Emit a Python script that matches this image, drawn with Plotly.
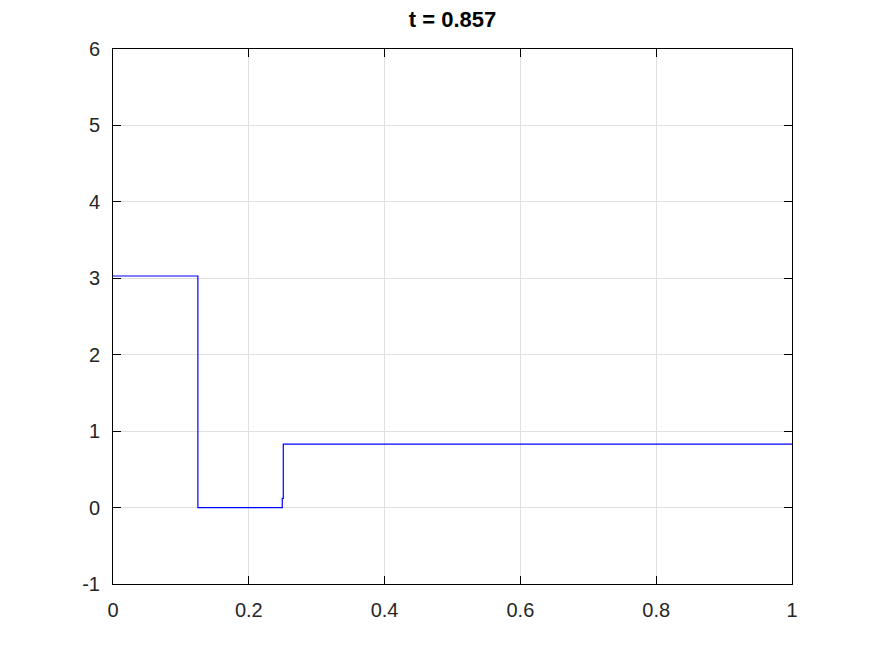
import plotly.graph_objects as go

# step profile
x_vals = [0.0, 0.125, 0.125, 0.2493, 0.2493, 0.2508, 0.2508, 1.0]
y_vals = [3.03, 3.03, 0.0, 0.0, 0.12, 0.12, 0.83, 0.83]

x_ticks = [0, 0.2, 0.4, 0.6, 0.8, 1]
x_labels = ['0', '0.2', '0.4', '0.6', '0.8', '1']
y_ticks = [-1, 0, 1, 2, 3, 4, 5, 6]
y_labels = ['-1', '0', '1', '2', '3', '4', '5', '6']
title_text = 't = 0.857'

fig = go.Figure()
fig.add_trace(go.Scatter(x=x_vals, y=y_vals, mode='lines',
                         line=dict(color='#0000ff', width=1.2),
                         showlegend=False, hoverinfo='skip'))

axis_style = dict(showline=True, linecolor='black', linewidth=1, mirror='allticks',
                  ticks='inside', ticklen=8, tickcolor='black',
                  showgrid=True, gridcolor='#e0e0e0', gridwidth=1,
                  zeroline=False, ticklabelstandoff=8,
                  tickfont=dict(family='Liberation Sans, Arial', size=20, color='#262626'))

fig.update_layout(
    width=867, height=648,
    paper_bgcolor='white', plot_bgcolor='white',
    margin=dict(l=105, r=83, t=41, b=72),
    title=dict(text='<b>' + title_text + '</b>', xref='paper', x=0.5, xanchor='center',
               y=0.982, yanchor='middle',
               font=dict(family='Liberation Sans, Arial', size=22, color='black')),
    xaxis=dict(range=[0, 1], tickvals=x_ticks, ticktext=x_labels, **axis_style),
    yaxis=dict(range=[-1, 6], tickvals=y_ticks, ticktext=y_labels, **axis_style),
)

fig.write_html("out.html")
